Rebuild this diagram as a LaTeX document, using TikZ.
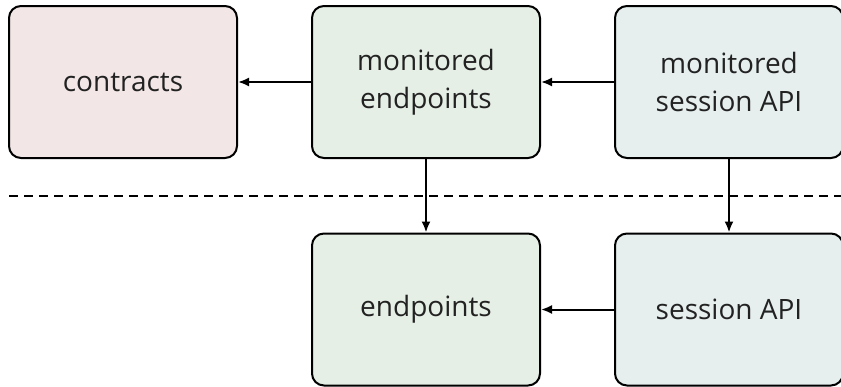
\documentclass[tikz,border=0pt]{standalone}
\usepackage{fontspec}
\setmainfont{Open Sans}
\usetikzlibrary{arrows.meta}
\definecolor{pinkfill}{HTML}{F3E6E6}
\definecolor{greenfill}{HTML}{E6EFE6}
\definecolor{bluefill}{HTML}{E6EEEE}
\definecolor{txt}{HTML}{222222}
\tikzset{
  box/.style={draw=black, line width=2pt, rounded corners=12pt, minimum width=228pt, minimum height=152pt, inner sep=0pt, align=center, text=txt, font=\fontsize{28}{38}\selectfont},
  arr/.style={line width=2pt, -{Latex[length=11pt,width=9pt]}}
}
\begin{document}
\begin{tikzpicture}[x=1pt,y=-1pt]
\useasboundingbox (0,0) rectangle (841,386);
\clip (0,0) rectangle (841,386);
\node[box, fill=pinkfill] (contracts) at (123,82) {contracts};
\node[box, fill=greenfill] (ment) at (426,82) {monitored\\endpoints};
\node[box, fill=bluefill] (msess) at (729,82) {monitored\\session API};
\node[box, fill=greenfill] (ent) at (426,309.5) {endpoints};
\node[box, fill=bluefill] (sess) at (729,309.5) {session API};
\coordinate (dl) at (9,196);
\coordinate (dr) at (841,196);
\draw[line width=2pt, dash pattern=on 9pt off 6pt] (dl) -- (dr);
\draw[arr] (ment) -- (contracts);
\draw[arr] (msess) -- (ment);
\draw[arr] (sess) -- (ent);
\draw[arr] (ment) -- (ent);
\draw[arr] (msess) -- (sess);
\end{tikzpicture}
\end{document}
